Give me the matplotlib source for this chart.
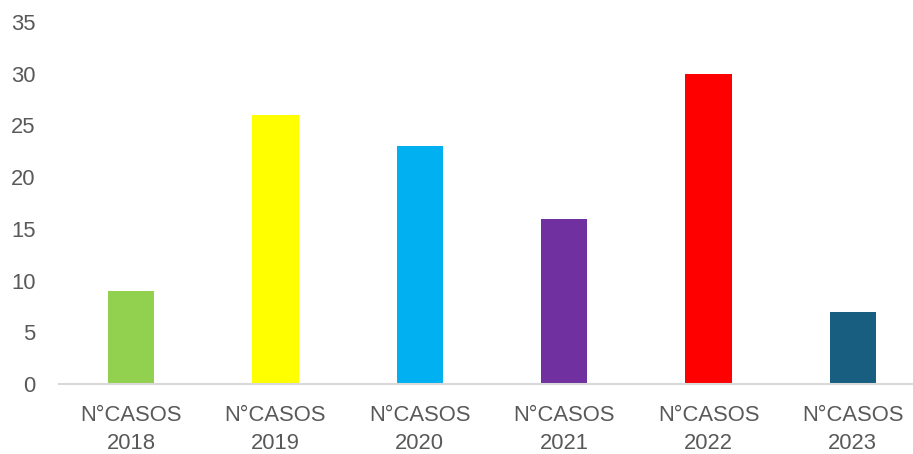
import matplotlib.pyplot as plt

# data
categories = ["N°CASOS\n2018", "N°CASOS\n2019", "N°CASOS\n2020",
              "N°CASOS\n2021", "N°CASOS\n2022", "N°CASOS\n2023"]
values = [9, 26, 23, 16, 30, 7]
colors = ["#92D050", "#FFFF00", "#00B0F0", "#7030A0", "#FF0000", "#175E80"]
yticks = [0, 5, 10, 15, 20, 25, 30, 35]

plt.rcParams['font.family'] = ['Liberation Sans', 'DejaVu Sans']

fig = plt.figure(figsize=(9.13, 4.54), dpi=100)
# axes runs slightly past the right edge, like the original
left = 59 / 913
right = 925 / 913
bottom = 1 - 384 / 454
top = 1 - 22 / 454
ax = fig.add_axes([left, bottom, right - left, top - bottom])

x = range(len(categories))
ax.bar(x, values, width=0.32, color=colors, zorder=2)

ax.set_xlim(-0.5, len(categories) - 0.5)
ax.set_ylim(0, 35)
ax.set_yticks(yticks)
ax.set_xticks(list(x))
ax.set_xticklabels(categories, fontsize=15.8, color="#595959", linespacing=1.45)
ax.tick_params(axis='y', labelsize=15.8, labelcolor="#595959", length=0, pad=17)
ax.tick_params(axis='x', length=0, pad=15)

for side in ["top", "right", "left"]:
    ax.spines[side].set_visible(False)
ax.spines["bottom"].set_color("#D9D9D9")
ax.spines["bottom"].set_linewidth(1.5)

fig.savefig("out.png", dpi=100)
